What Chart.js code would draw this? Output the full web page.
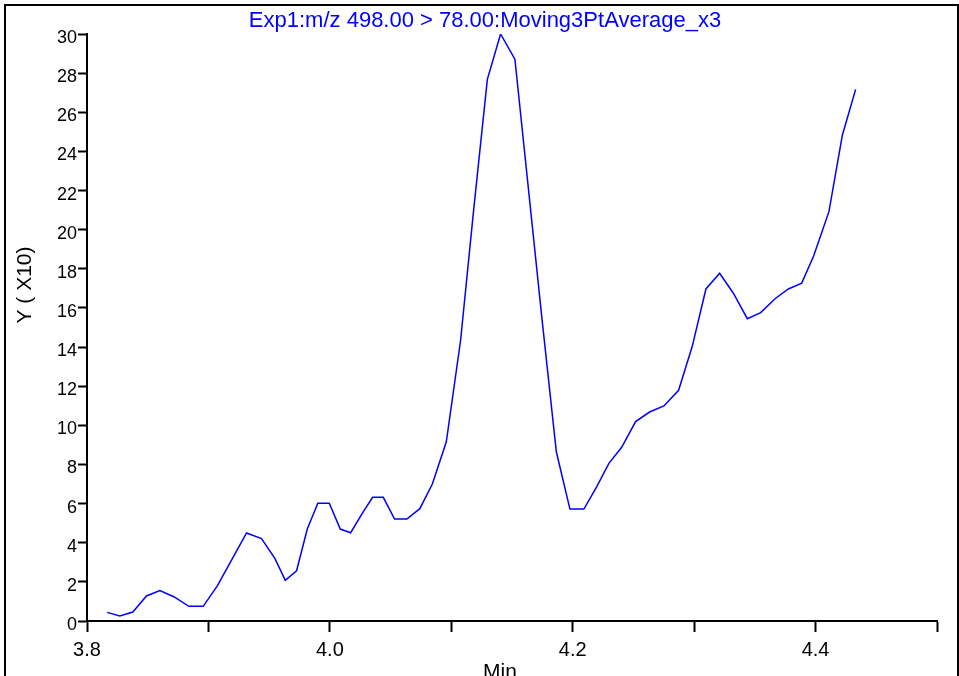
<!DOCTYPE html>
<html>
<head>
<meta charset="utf-8">
<script src="https://cdn.jsdelivr.net/npm/chart.js@4.4.0/dist/chart.umd.min.js"></script>
<style>
  html, body { margin: 0; padding: 0; background: #fff; }
  canvas { display: block; }
</style>
</head>
<body>
<canvas id="chart" width="959" height="676"></canvas>
<script>
  // retention time (min) and intensity (x10)
  const times = [
    3.8166, 3.8270, 3.8377, 3.8490, 3.8600, 3.8715, 3.8839, 3.8957, 3.9073, 3.9196,
    3.9314, 3.9437, 3.9547, 3.9633, 3.9726, 3.9814, 3.9901, 3.9995, 4.0086, 4.0171,
    4.0267, 4.0352, 4.0440, 4.0533, 4.0634, 4.0741, 4.0844, 4.0959, 4.1077, 4.1184,
    4.1297, 4.1406, 4.1524, 4.1637, 4.1748, 4.1865, 4.1977, 4.2092, 4.2197, 4.2298,
    4.2403, 4.2518, 4.2633, 4.2751, 4.2872, 4.2985, 4.3097, 4.3210, 4.3323, 4.3438,
    4.3548, 4.3666, 4.3776, 4.3886, 4.3984, 4.4110, 4.4221, 4.4330
  ];
  const intensity = [
    0.44, 0.26, 0.46, 1.28, 1.55, 1.24, 0.75, 0.75, 1.79, 3.17,
    4.50, 4.21, 3.20, 2.08, 2.57, 4.70, 6.02, 6.02, 4.70, 4.51,
    5.50, 6.32, 6.32, 5.21, 5.21, 5.74, 7.00, 9.16, 14.36, 21.0,
    27.68, 30.0, 28.71, 21.98, 15.38, 8.65, 5.72, 5.72, 6.86, 8.06,
    8.88, 10.19, 10.68, 10.99, 11.79, 14.05, 16.97, 17.77, 16.75, 15.45,
    15.76, 16.47, 16.97, 17.27, 18.65, 20.92, 24.84, 27.17
  ];
  const xLabelled = [3.8, 4.0, 4.2, 4.4];
  const traceTitle = 'Exp1:m/z 498.00 > 78.00:Moving3PtAverage_x3';
  const yTitle = 'Y ( X10)';
  const xTitle = 'Min';

  const FONT = '"Liberation Sans", Arial, sans-serif';
  const BLUE = '#0000ff';

  const decor = {
    id: 'decor',
    beforeDraw(chart) {
      const ctx = chart.ctx;
      ctx.save();
      ctx.fillStyle = '#fff';
      ctx.fillRect(0, 0, chart.width, chart.height);
      // outer frame
      ctx.strokeStyle = '#000';
      ctx.lineWidth = 2;
      ctx.beginPath();
      ctx.moveTo(5, 700);
      ctx.lineTo(5, 5);
      ctx.lineTo(958, 5);
      ctx.lineTo(958, 700);
      ctx.stroke();
      ctx.restore();
    },
    afterDraw(chart) {
      const ctx = chart.ctx;
      ctx.save();
      ctx.fillStyle = BLUE;
      ctx.font = '22px ' + FONT;
      ctx.textAlign = 'center';
      ctx.textBaseline = 'alphabetic';
      ctx.fillText(traceTitle, 485, 27);

      ctx.fillStyle = '#000';
      ctx.font = '21px ' + FONT;
      ctx.fillText(xTitle, 500, 678);

      ctx.translate(31, 285);
      ctx.rotate(-Math.PI / 2);
      ctx.font = '21px ' + FONT;
      ctx.fillText(yTitle, 0, 0);
      ctx.restore();
    }
  };

  new Chart(document.getElementById('chart'), {
    type: 'line',
    data: {
      datasets: [{
        data: times.map((t, i) => ({ x: t, y: intensity[i] })),
        borderColor: BLUE,
        borderWidth: 1.5,
        pointRadius: 0,
        tension: 0,
        fill: false
      }]
    },
    options: {
      responsive: false,
      animation: false,
      layout: { padding: { top: 34, right: 22, left: 0, bottom: 0 } },
      plugins: {
        legend: { display: false },
        title: { display: false },
        tooltip: { enabled: false }
      },
      scales: {
        x: {
          type: 'linear',
          min: 3.8,
          max: 4.5,
          afterFit(scale) { scale.height = 55; },
          border: { display: true, color: '#000', width: 2 },
          grid: { drawOnChartArea: false, drawTicks: true, tickLength: 11, tickWidth: 2, tickColor: '#000' },
          ticks: {
            stepSize: 0.1,
            autoSkip: false,
            maxRotation: 0,
            padding: 6,
            color: '#000',
            font: { family: FONT, size: 20 },
            callback(v) {
              const hit = xLabelled.find(l => Math.abs(l - v) < 1e-6);
              return hit === undefined ? '' : hit.toFixed(1);
            }
          }
        },
        y: {
          min: 0,
          max: 30,
          afterFit(scale) { scale.width = 87; },
          border: { display: true, color: '#000', width: 2 },
          grid: { drawOnChartArea: false, drawTicks: true, tickLength: 9, tickWidth: 2, tickColor: '#000' },
          ticks: {
            stepSize: 2,
            autoSkip: false,
            padding: 1,
            labelOffset: 4,
            color: '#000',
            font: { family: FONT, size: 18 }
          }
        }
      }
    },
    plugins: [decor]
  });
</script>
</body>
</html>
